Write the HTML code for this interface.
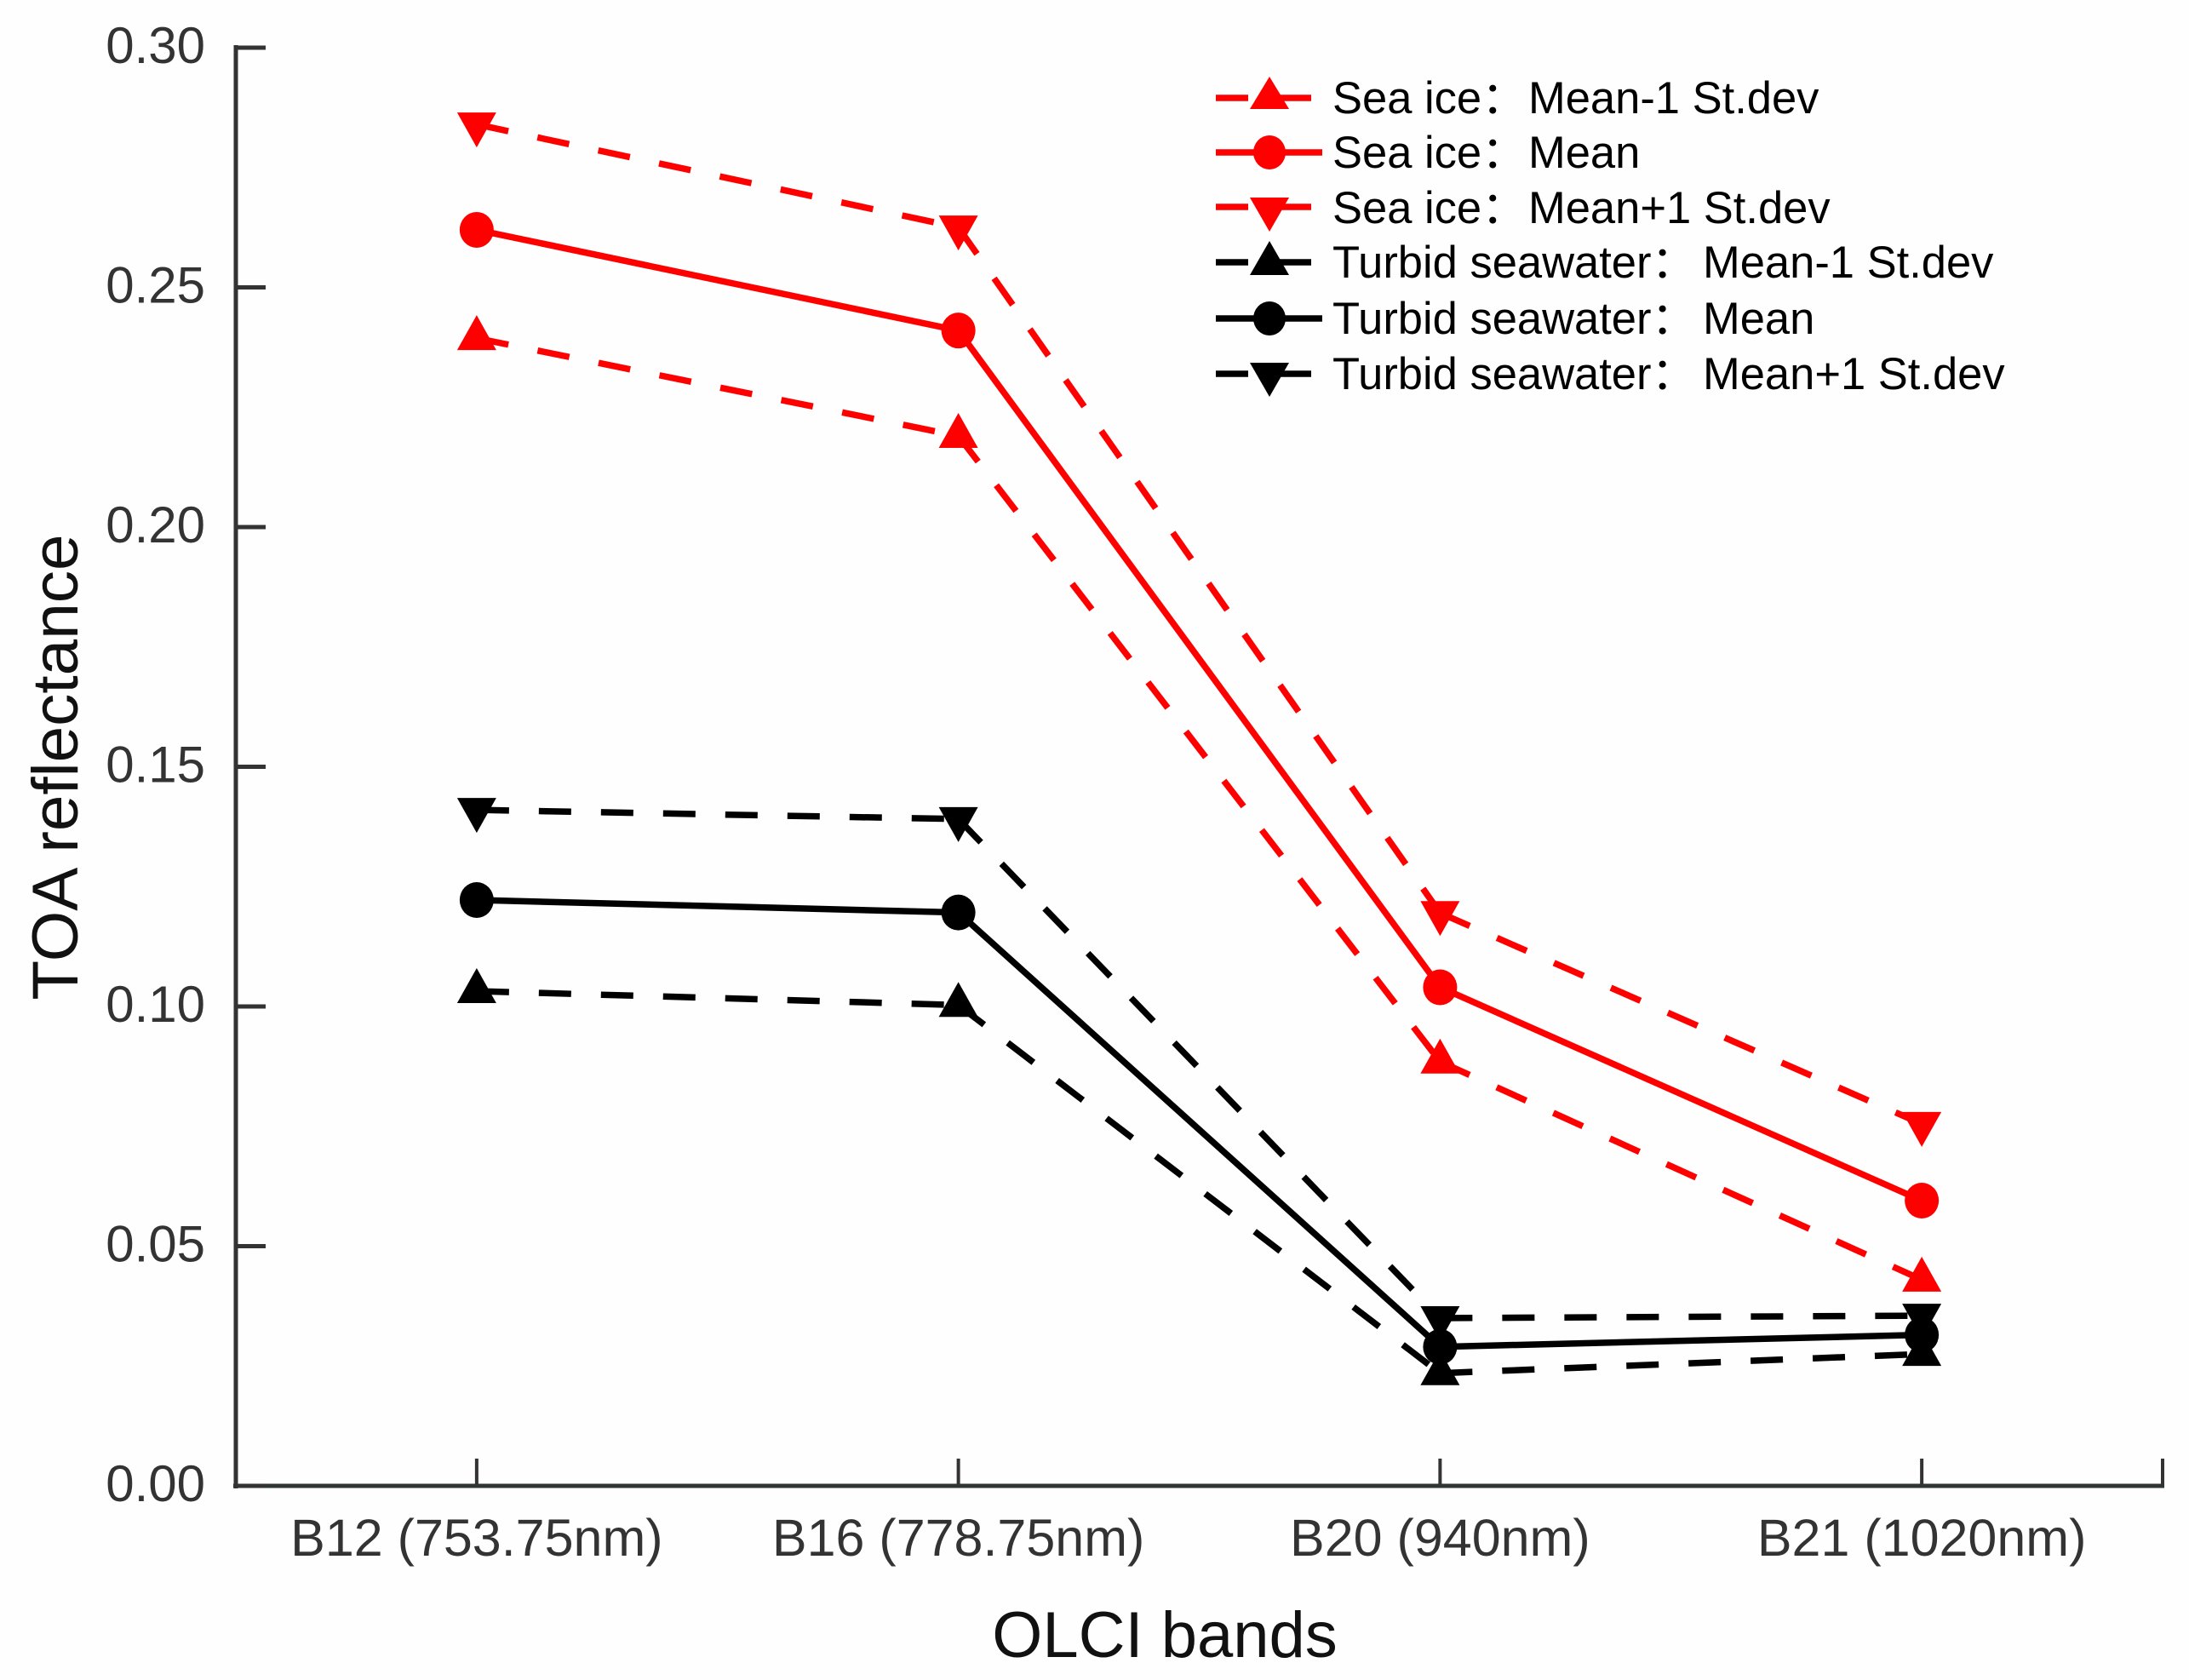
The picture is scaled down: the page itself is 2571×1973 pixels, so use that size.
<!DOCTYPE html>
<html lang="en">
<head>
<meta charset="utf-8">
<title>TOA reflectance by OLCI band</title>
<style>
html,body{margin:0;padding:0;background:#fefefe;}
svg{display:block;}
text{font-family:"Liberation Sans","Noto Sans CJK SC",sans-serif;}
</style>
</head>
<body>
<svg id="chart" xmlns="http://www.w3.org/2000/svg" width="2571" height="1973" viewBox="0 0 2571 1973">
  <rect width="2571" height="1973" fill="#fefefe"/>
  <g id="axes"></g>
  <g id="series"></g>
  <text x="1368" y="1946" font-size="76" text-anchor="middle" fill="#111">OLCI bands</text>
  <text transform="translate(91 901) rotate(-90)" font-size="76.5" text-anchor="middle" fill="#111">TOA reflectance</text>
  <g font-size="52.5" fill="#000">
    <g>
      <line x1="1428" x2="1540" y1="115" y2="115" stroke="#ff0000" stroke-width="7.5" stroke-dasharray="38 36"/>
      <polygon points="1491,90 1514,128 1468,128" fill="#ff0000"/>
      <text x="1565" y="133">Sea ice：<tspan x="1795">Mean-1 St.dev</tspan></text>
    </g>
    <g>
      <line x1="1428" x2="1553" y1="179" y2="179" stroke="#ff0000" stroke-width="7.5"/>
      <ellipse cx="1491" cy="179" rx="19" ry="20" fill="#ff0000"/>
      <text x="1565" y="197">Sea ice：<tspan x="1795">Mean</tspan></text>
    </g>
    <g>
      <line x1="1428" x2="1540" y1="243" y2="243" stroke="#ff0000" stroke-width="7.5" stroke-dasharray="38 36"/>
      <polygon points="1468,232 1514,232 1491,272" fill="#ff0000"/>
      <text x="1565" y="262">Sea ice：<tspan x="1795">Mean+1 St.dev</tspan></text>
    </g>
    <g>
      <line x1="1428" x2="1540" y1="308" y2="308" stroke="#000" stroke-width="7.5" stroke-dasharray="38 36"/>
      <polygon points="1491,283 1514,323 1468,323" fill="#000"/>
      <text x="1565" y="326">Turbid seawater：<tspan x="2000">Mean-1 St.dev</tspan></text>
    </g>
    <g>
      <line x1="1428" x2="1553" y1="374" y2="374" stroke="#000" stroke-width="7.5"/>
      <ellipse cx="1491" cy="374" rx="19" ry="20" fill="#000"/>
      <text x="1565" y="392">Turbid seawater：<tspan x="2000">Mean</tspan></text>
    </g>
    <g>
      <line x1="1428" x2="1540" y1="439" y2="439" stroke="#000" stroke-width="7.5" stroke-dasharray="38 36"/>
      <polygon points="1468,426 1514,426 1491,466" fill="#000"/>
      <text x="1565" y="457">Turbid seawater：<tspan x="2000">Mean+1 St.dev</tspan></text>
    </g>
  </g>
</svg>
<script>
var categories = ['B12 (753.75nm)', 'B16 (778.75nm)', 'B20 (940nm)', 'B21 (1020nm)'];
var yTicks = ['0.00', '0.05', '0.10', '0.15', '0.20', '0.25', '0.30'];
var seaIceMinus = [0.2394, 0.2190, 0.0885, 0.0430];
var seaIceMean = [0.2620, 0.2410, 0.1040, 0.0595];
var seaIcePlus = [0.2840, 0.2625, 0.1195, 0.0755];
var turbidMinus = [0.1032, 0.1003, 0.0235, 0.0275];
var turbidMean = [0.1222, 0.1196, 0.0290, 0.0315];
var turbidPlus = [0.1410, 0.1391, 0.0350, 0.0355];

var NS = 'http://www.w3.org/2000/svg';
var plotLeft = 277, plotRight = 2540, plotTop = 56, plotBottom = 1745, yMax = 0.30;

function xScale(i) {
  return plotLeft + (i + 0.5) * (plotRight - plotLeft) / categories.length;
}
function yScale(v) {
  return plotBottom - (v / yMax) * (plotBottom - plotTop);
}
function make(tag, attrs, parent) {
  var el = document.createElementNS(NS, tag);
  for (var k in attrs) el.setAttribute(k, attrs[k]);
  parent.appendChild(el);
  return el;
}

var axes = document.getElementById('axes');
var axisColor = '#333';

var yAxisLine = make('line', {x1: plotLeft, x2: plotLeft, y1: plotTop - 3, y2: plotBottom + 3, stroke: axisColor, 'stroke-width': 5}, axes);



var xAxisLine = make('line', {x1: plotLeft - 3, x2: plotRight + 2, y1: plotBottom, y2: plotBottom, stroke: '#2f3533', 'stroke-width': 5}, axes);



yTicks.forEach(function (t) {
  var y = yScale(parseFloat(t));
  var tick = make('line', {x1: plotLeft, x2: plotLeft + 35, y1: y, y2: y, stroke: axisColor, 'stroke-width': 5}, axes);
  
  
  var label = make('text', {x: 241, y: y + 18, 'font-size': 60, 'text-anchor': 'end', fill: axisColor}, axes);
  label.textContent = t;
  
  
});

categories.forEach(function (c, i) {
  var x = xScale(i);
  var tick = make('line', {x1: x, x2: x, y1: plotBottom - 32, y2: plotBottom, stroke: axisColor, 'stroke-width': 4}, axes);
  
  
  var label = make('text', {x: x, y: 1827, 'font-size': 61, 'text-anchor': 'middle', fill: axisColor}, axes);
  label.textContent = c;
  
  
});

var endTick = make('line', {x1: plotRight, x2: plotRight, y1: plotBottom - 32, y2: plotBottom, stroke: axisColor, 'stroke-width': 4}, axes);



function drawSeries(name, values, color, dashed, marker) {
  var root = document.getElementById('series');
  var g = make('g', {}, root);
  
  
  for (var i = 0; i < values.length - 1; i++) {
    var seg = make('line', {
      x1: xScale(i), y1: yScale(values[i]), x2: xScale(i + 1), y2: yScale(values[i + 1]),
      stroke: color, 'stroke-width': 7.5
    }, g);
    if (dashed) seg.setAttribute('stroke-dasharray', '38 35');
    
    
  }
  values.forEach(function (v, i) {
    var x = xScale(i), y = yScale(v), m;
    if (marker === 'circle') {
      m = make('ellipse', {cx: x, cy: y, rx: 20, ry: 21, fill: color}, g);
    } else if (marker === 'up') {
      m = make('polygon', {points: (x) + ',' + (y - 27) + ' ' + (x + 23) + ',' + (y + 14) + ' ' + (x - 23) + ',' + (y + 14), fill: color}, g);
    } else {
      m = make('polygon', {points: (x - 23) + ',' + (y - 14) + ' ' + (x + 23) + ',' + (y - 14) + ' ' + (x) + ',' + (y + 27), fill: color}, g);
    }
    
    
  });
}

drawSeries('series-turbid-minus', turbidMinus, '#000', true, 'up');
drawSeries('series-turbid-plus', turbidPlus, '#000', true, 'down');
drawSeries('series-turbid-mean', turbidMean, '#000', false, 'circle');
drawSeries('series-sea-ice-minus', seaIceMinus, '#ff0000', true, 'up');
drawSeries('series-sea-ice-plus', seaIcePlus, '#ff0000', true, 'down');
drawSeries('series-sea-ice-mean', seaIceMean, '#ff0000', false, 'circle');
</script>
</body>
</html>
